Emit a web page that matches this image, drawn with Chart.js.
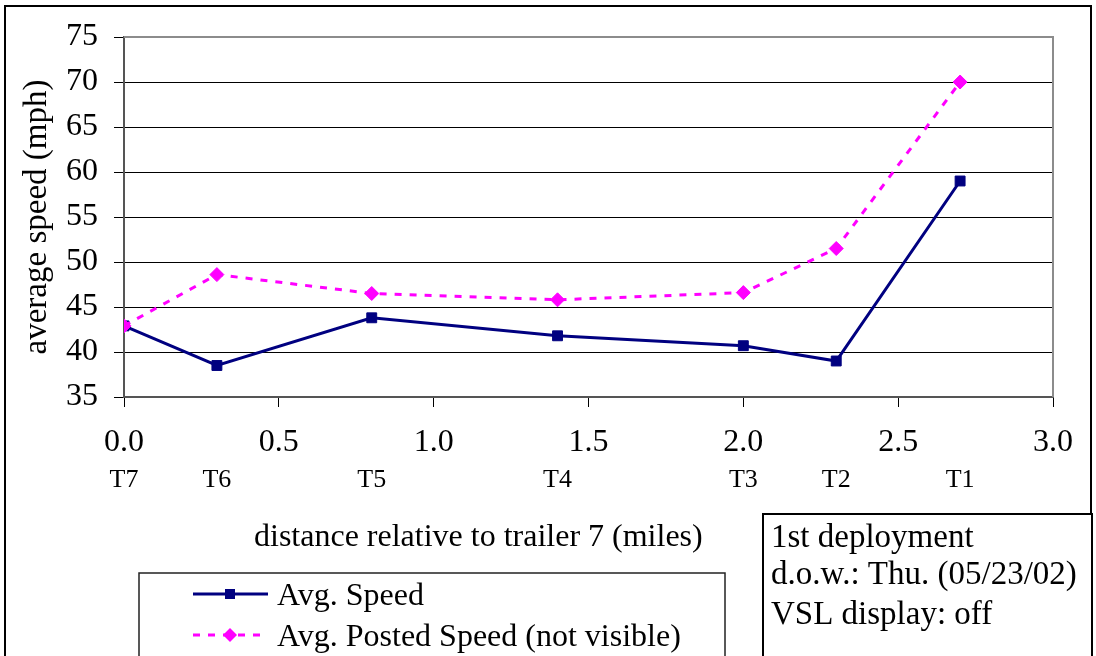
<!DOCTYPE html>
<html>
<head>
<meta charset="utf-8">
<title>Average speed by trailer</title>
<script src="https://cdn.jsdelivr.net/npm/chart.js@4.4.1/dist/chart.umd.min.js"></script>
<style>
  html, body { margin: 0; padding: 0; background: #fff; }
  #wrap { width: 1096px; height: 656px; overflow: hidden; }
</style>
</head>
<body>
<div id="wrap"><canvas id="speedChart" width="1096" height="656"></canvas></div>
<script>
// Trailers, from T7 (the reference point) to T1
const trailers = ['T7', 'T6', 'T5', 'T4', 'T3', 'T2', 'T1'];
const distance = [0.0, 0.3, 0.8, 1.4, 2.0, 2.3, 2.7];

// Speeds (mph)
const avgSpeed = [42.9, 38.5, 43.8, 41.8, 40.7, 39.0, 59.0];
const postedSpeed = [42.9, 48.6, 46.5, 45.8, 46.6, 51.5, 70.0];

// Axis ticks
const xTicks = [0.0, 0.5, 1.0, 1.5, 2.0, 2.5, 3.0];
const yTicks = [35, 40, 45, 50, 55, 60, 65, 70, 75];

// Text of the box at the bottom right
const noteLines = ['1st deployment', 'd.o.w.: Thu. (05/23/02)', 'VSL display: off'];

const serif = '"Liberation Serif", "Times New Roman", serif';

function toPoints(values) {
    return values.map(function (v, i) {
        return { x: distance[i], y: v };
    });
}

// Frame, x title, legend and the deployment note are drawn here
const decorPlugin = {
    id: 'decor',
    afterDraw: function (chart) {
        const ctx = chart.ctx;
        const area = chart.chartArea;
        ctx.save();

        // grey top and right edges of the plot area
        ctx.strokeStyle = '#8c8c8c';
        ctx.lineWidth = 2;
        ctx.beginPath();
        ctx.moveTo(area.left, area.top);
        ctx.lineTo(area.right, area.top);
        ctx.lineTo(area.right, area.bottom);
        ctx.stroke();

        // outer frame of the chart
        ctx.strokeStyle = '#000';
        ctx.lineWidth = 2;
        ctx.strokeRect(5, 6, 1086, 670);

        // x axis title
        ctx.fillStyle = '#000';
        ctx.font = '32px ' + serif;
        ctx.textAlign = 'left';
        ctx.textBaseline = 'alphabetic';
        ctx.fillText('distance relative to trailer 7 (miles)', 254, 546);

        // legend
        ctx.fillStyle = '#fff';
        ctx.fillRect(139, 573, 586, 100);
        ctx.strokeStyle = '#222';
        ctx.lineWidth = 1.5;
        ctx.strokeRect(139, 573, 586, 100);

        const rows = [594, 635];
        chart.data.datasets.forEach(function (ds, i) {
            const y = rows[i];
            ctx.strokeStyle = ds.borderColor;
            ctx.lineWidth = ds.borderWidth;
            ctx.setLineDash(ds.borderDash || []);
            ctx.beginPath();
            ctx.moveTo(193, y);
            ctx.lineTo(268, y);
            ctx.stroke();
            ctx.setLineDash([]);

            ctx.fillStyle = ds.pointBackgroundColor;
            ctx.beginPath();
            if (ds.pointStyle === 'rect') {
                ctx.rect(230 - 5, y - 5, 10, 10);
            } else {
                ctx.moveTo(230, y - 7);
                ctx.lineTo(237, y);
                ctx.lineTo(230, y + 7);
                ctx.lineTo(223, y);
                ctx.closePath();
            }
            ctx.fill();

            ctx.fillStyle = '#000';
            ctx.font = '32px ' + serif;
            ctx.fillText(ds.label, 277, y + 11);
        });

        // deployment note
        ctx.fillStyle = '#fff';
        ctx.fillRect(763, 514, 329, 160);
        ctx.strokeStyle = '#000';
        ctx.lineWidth = 2;
        ctx.strokeRect(763, 514, 329, 160);
        ctx.fillStyle = '#000';
        ctx.font = '33px ' + serif;
        const baselines = [547, 584, 624];
        noteLines.forEach(function (line, i) {
            ctx.fillText(line, 771, baselines[i]);
        });

        ctx.restore();
    }
};

const ctx = document.getElementById('speedChart').getContext('2d');

const speedChart = new Chart(ctx, {
    type: 'line',
    data: {
        datasets: [
            {
                label: 'Avg. Speed',
                data: toPoints(avgSpeed),
                borderColor: '#000080',
                backgroundColor: '#000080',
                borderWidth: 3,
                pointStyle: 'rect',
                pointRadius: 7,
                pointBorderWidth: 1,
                pointBackgroundColor: '#000080',
                pointBorderColor: '#000080',
                tension: 0,
                order: 1
            }, {
                label: 'Avg. Posted Speed (not visible)',
                data: toPoints(postedSpeed),
                borderColor: '#ff00ff',
                backgroundColor: '#ff00ff',
                borderWidth: 3,
                borderDash: [7, 8],
                pointStyle: 'rectRot',
                pointRadius: 7,
                pointBorderWidth: 1,
                pointBackgroundColor: '#ff00ff',
                pointBorderColor: '#ff00ff',
                tension: 0,
                order: 0
            }]
    },
    options: {
        responsive: false,
        animation: false,
        layout: {
            padding: { top: 37, right: 43, left: 0, bottom: 0 }
        },
        plugins: {
            legend: { display: false },
            tooltip: { enabled: false }
        },
        scales: {
            x: {
                type: 'linear',
                position: 'bottom',
                min: 0,
                max: 3,
                afterBuildTicks: function (scale) {
                    scale.ticks = xTicks.map(function (v) { return { value: v }; });
                },
                afterFit: function (scale) { scale.height = 60; },
                ticks: {
                    callback: function (value) { return Number(value).toFixed(1); },
                    font: { family: serif, size: 32 },
                    color: '#000',
                    padding: 16,
                    maxRotation: 0,
                    autoSkip: false
                },
                grid: {
                    drawOnChartArea: false,
                    tickLength: 10,
                    color: '#000',
                    lineWidth: 1
                },
                border: { color: '#555', width: 2 }
            },
            trailer: {
                type: 'linear',
                position: 'bottom',
                min: 0,
                max: 3,
                afterBuildTicks: function (scale) {
                    scale.ticks = distance.map(function (v) { return { value: v }; });
                },
                afterFit: function (scale) { scale.height = 199; },
                ticks: {
                    callback: function (value, index) { return trailers[index]; },
                    font: { family: serif, size: 26 },
                    color: '#000',
                    padding: 0,
                    maxRotation: 0,
                    autoSkip: false
                },
                grid: { display: false },
                border: { display: false }
            },
            y: {
                min: 35,
                max: 75,
                afterBuildTicks: function (scale) {
                    scale.ticks = yTicks.map(function (v) { return { value: v }; });
                },
                afterFit: function (scale) { scale.width = 124; },
                ticks: {
                    font: { family: serif, size: 32 },
                    color: '#000',
                    padding: 16
                },
                grid: {
                    color: '#000',
                    lineWidth: 1,
                    tickLength: 10
                },
                border: { color: '#555', width: 2 },
                title: {
                    display: true,
                    text: 'average speed (mph)',
                    font: { family: serif, size: 33 },
                    color: '#000',
                    padding: { top: 18, bottom: 0 }
                }
            }
        }
    },
    plugins: [decorPlugin]
});
</script>
</body>
</html>
